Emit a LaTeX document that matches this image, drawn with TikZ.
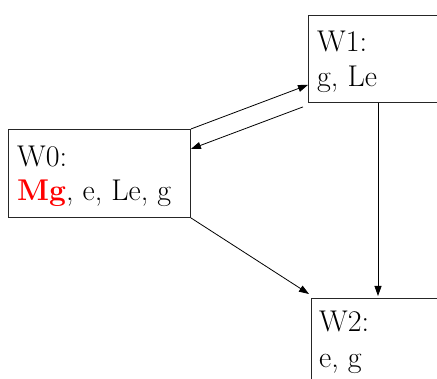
\documentclass[tikz,border=0pt]{standalone}
\usetikzlibrary{arrows.meta}
\begin{document}
\begin{tikzpicture}[x=1pt,y=-1pt,
  box/.style={draw=black!85, line width=0.9pt, rectangle, inner sep=0pt, anchor=north west},
  txt/.style={inner sep=0pt, anchor=base west, font=\fontsize{30}{35}\selectfont},
  conn/.style={line width=0.8pt, -{Triangle[length=10pt,width=7pt]}}]
\useasboundingbox (0,0) rectangle (437,379);
\node[box, minimum width=182pt, minimum height=88pt] (w0) at (8,129) {};
\node[box, minimum width=140pt, minimum height=87pt] (w1) at (308,15) {};
\node[box, minimum width=140pt, minimum height=95pt] (w2) at (311,298) {};
\node[txt] (w0a) at (17,167) {W0:};
\node[txt] (w0b) at (17,201) {\textcolor{red}{\textbf{Mg}}, e, Le, g};
\node[txt] (w1a) at (317,52) {W1:};
\node[txt] (w1b) at (317,87) {g, Le};
\node[txt] (w2a) at (319,332) {W2:};
\node[txt] (w2b) at (319,368) {e, g};
\draw[conn] (w0.north east) -- ([yshift=18pt]w1.south west);
\draw[conn] ([xshift=-5pt,yshift=-4pt]w1.south west) -- ([yshift=-20pt]w0.north east);
\draw[conn] (w0.south east) -- ([xshift=-2pt,yshift=4pt]w2.north west);
\draw[conn] ([xshift=70pt]w1.south west) -- ([xshift=67pt,yshift=2pt]w2.north west);
\end{tikzpicture}
\end{document}
